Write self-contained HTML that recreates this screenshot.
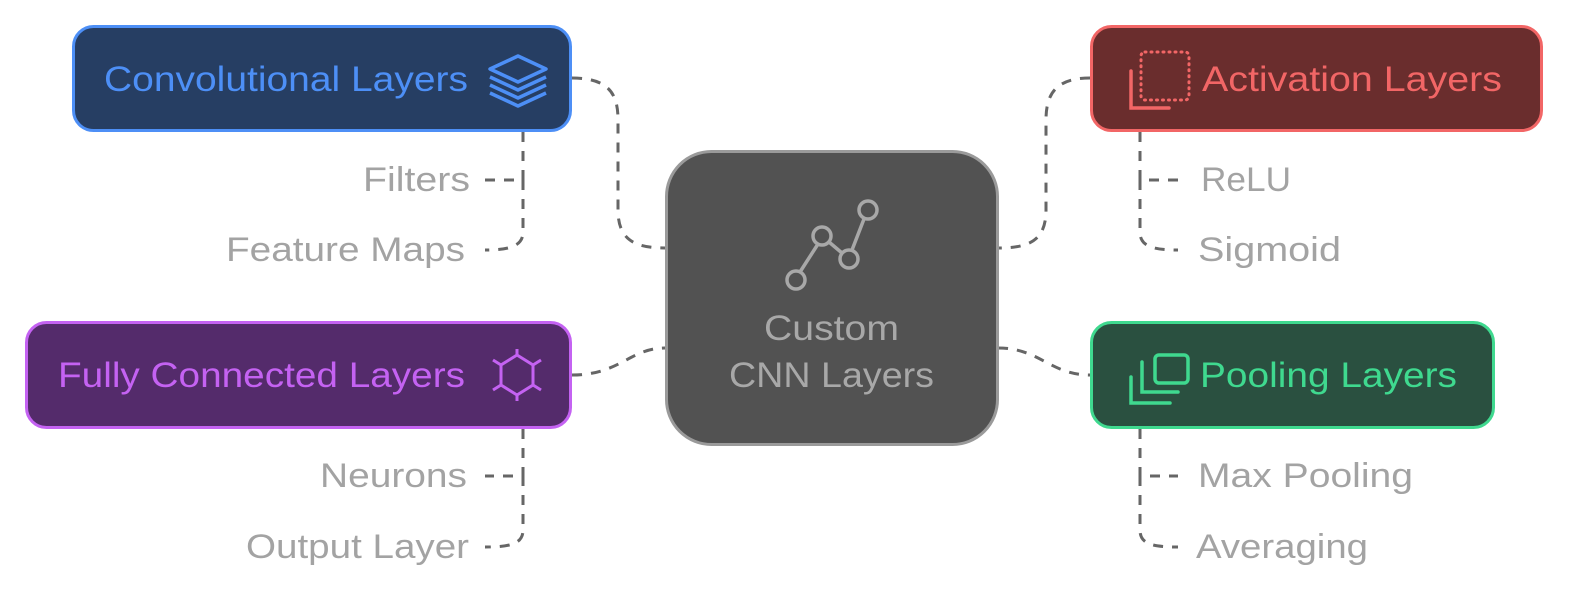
<!DOCTYPE html>
<html><head><meta charset="utf-8"><style>
body{margin:0;background:#fff;width:1588px;height:602px;overflow:hidden}
svg text{font-family:"Liberation Sans",sans-serif}
</style></head><body>
<svg width="1588" height="602" viewBox="0 0 1588 602" xmlns="http://www.w3.org/2000/svg">
<g fill="none" stroke="#666" stroke-width="3" stroke-dasharray="10,9">
<path d="M572 78 C610 78 618 95 618 120 L618 210 C618 240 635 248 665 248"/>
<path d="M523 132 L523 180 L485 180"/>
<path d="M523 180 L523 232 C523 246 510 250 485 250"/>
<path d="M1090 78 C1055 78 1046 95 1046 120 L1046 210 C1046 240 1030 248 998 248"/>
<path d="M1140 132 L1140 180 L1178 180"/>
<path d="M1140 180 L1140 232 C1140 246 1152 250 1178 250"/>
<path d="M572 375 C620 375 630 348 665 348"/>
<path d="M523 429 L523 476 L485 476"/>
<path d="M523 476 L523 530 C523 544 510 547 485 547"/>
<path d="M998 348 C1040 348 1050 375 1090 375"/>
<path d="M1140 429 L1140 476 L1178 476"/>
<path d="M1140 476 L1140 530 C1140 544 1152 547 1178 547"/>
</g>
<rect x="73.5" y="26.5" width="497" height="104" rx="20" fill="#263e63" stroke="#4d8ff6" stroke-width="3"/>
<text x="104" y="91" font-size="35" fill="#4d8ff6" textLength="364" lengthAdjust="spacingAndGlyphs">Convolutional Layers</text>
<g fill="none" stroke="#4d8ff6" stroke-width="3.5" stroke-linejoin="round">
<path d="M518 56 L546 69 L518 82 L490 69 Z"/><path d="M490 77 L518 90 L546 77"/><path d="M490 85 L518 98 L546 85"/><path d="M490 93 L518 106 L546 93"/></g>

<rect x="1091.5" y="26.5" width="450" height="104" rx="20" fill="#6a2d2d" stroke="#f26666" stroke-width="3"/>
<text x="1202" y="91" font-size="35" fill="#f26666" textLength="300" lengthAdjust="spacingAndGlyphs">Activation Layers</text>
<path d="M1131 71 L1131 108 L1169 108" fill="none" stroke="#f26666" stroke-width="3.5" stroke-linecap="round"/>
<rect x="1141" y="52" width="48" height="48" rx="4" fill="none" stroke="#f26666" stroke-width="3" stroke-dasharray="1,5" stroke-linecap="round"/>

<rect x="26.5" y="322.5" width="544" height="105" rx="20" fill="#542b6b" stroke="#c462f2" stroke-width="3"/>
<text x="58" y="387" font-size="35" fill="#c462f2" textLength="407" lengthAdjust="spacingAndGlyphs">Fully Connected Layers</text>
<g fill="none" stroke="#c462f2" stroke-width="3"><path d="M517 355 L533 365 L533 385 L517 395 L501 385 L501 365 Z"/><path d="M517 355 L517 349 M533 365 L541 360 M533 385 L541 390 M517 395 L517 401 M501 385 L493 390 M501 365 L493 360"/></g>

<rect x="1091.5" y="322.5" width="402" height="105" rx="20" fill="#2a5040" stroke="#3fd98f" stroke-width="3"/>
<text x="1200" y="387" font-size="35" fill="#3fd98f" textLength="257" lengthAdjust="spacingAndGlyphs">Pooling Layers</text>
<g fill="none" stroke="#3fd98f" stroke-width="3.5" stroke-linecap="round"><path d="M1131 377 L1131 403 L1170 403"/><path d="M1142 362 L1142 392 L1178 392"/><rect x="1155" y="355" width="33" height="28" rx="4"/></g>

<rect x="666.5" y="151.5" width="331" height="293" rx="45" fill="#525252" stroke="#9a9a9a" stroke-width="3"/>
<g fill="none" stroke="#a8a8a8" stroke-width="3.5"><circle cx="796" cy="280" r="9"/><circle cx="822" cy="236" r="9"/><circle cx="849" cy="259" r="9"/><circle cx="868" cy="210" r="9"/><path d="M800 272 L818 244 M829 242 L842 253 M852 250 L864 219"/></g>
<text x="764" y="340" font-size="35" fill="#a8a8a8" textLength="135" lengthAdjust="spacingAndGlyphs">Custom</text>
<text x="729" y="387" font-size="35" fill="#a8a8a8" textLength="205" lengthAdjust="spacingAndGlyphs">CNN Layers</text>

<g font-size="34" fill="#a3a3a3">
<text x="363" y="191" textLength="107" lengthAdjust="spacingAndGlyphs">Filters</text>
<text x="226" y="261" textLength="239" lengthAdjust="spacingAndGlyphs">Feature Maps</text>
<text x="320" y="487" textLength="147" lengthAdjust="spacingAndGlyphs">Neurons</text>
<text x="246" y="558" textLength="223" lengthAdjust="spacingAndGlyphs">Output Layer</text>
<text x="1201" y="191" textLength="90" lengthAdjust="spacingAndGlyphs">ReLU</text>
<text x="1198" y="261" textLength="143" lengthAdjust="spacingAndGlyphs">Sigmoid</text>
<text x="1198" y="487" textLength="215" lengthAdjust="spacingAndGlyphs">Max Pooling</text>
<text x="1196" y="558" textLength="172" lengthAdjust="spacingAndGlyphs">Averaging</text>
</g>
</svg>
</body></html>
